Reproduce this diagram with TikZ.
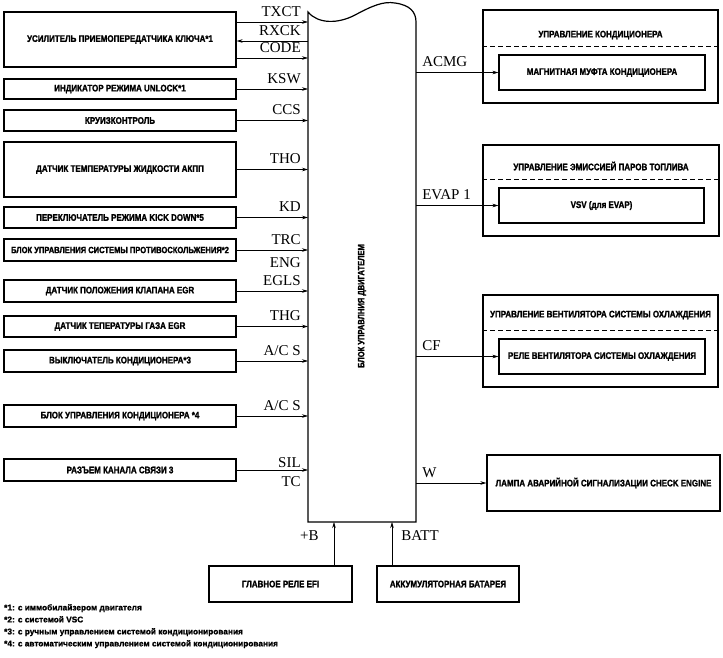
\documentclass[tikz,border=0pt]{standalone}
\usepackage{fontspec}
\setmainfont{Liberation Serif}
\newfontfamily\blockfont[UprightFont={* Bold},FakeStretch=0.84,FakeBold=1.6]{Liberation Sans}
\newfontfamily\notefont[UprightFont={* Bold},FakeBold=1.2]{Liberation Sans}
\usetikzlibrary{arrows.meta}

\begin{document}
\begin{tikzpicture}[x=1pt,y=-1pt,
    unit/.style={draw,line width=1.2pt,minimum width=232pt,inner sep=0pt,
        font={\blockfont\fontsize{9.5}{11}\selectfont}},
    ttl/.style={inner sep=0pt,font={\blockfont\fontsize{9.5}{11}\selectfont}},
    sig/.style={line width=0.6pt,-{Stealth[length=6pt,width=3.5pt]}},
    lab/.style={inner sep=0pt,font={\fontsize{15}{15}\selectfont}}]
    \useasboundingbox (0,0) rectangle (723,657);

    % engine ECU
    \draw[line width=1.2pt] (308,522) -- (308,12) .. controls (318,24) and (338,24) .. (355,15)
        .. controls (372,6) and (383,1) .. (395,3) .. controls (410,5) and (416,12) .. (416,22)
        -- (416,522) -- cycle;
    \coordinate (ecuL) at (308,0);
    \coordinate (ecuR) at (416,0);
    \coordinate (bIn) at (334,522);
    \coordinate (battIn) at (392,522);
    \node[ttl,rotate=90,font={\blockfont\fontsize{9}{11}\selectfont}] (ecutxt) at (362,306) {БЛОК УПРАВЛНИЯ ДВИГАТЕЛЕМ};

    % inputs
    \node[unit,minimum height=55pt] (immo) at (120,39.5) {УСИЛИТЕЛЬ ПРИЕМОПЕРЕДАТЧИКА КЛЮЧА*1};
    \node[unit,minimum height=20pt] (unlock) at (120,89) {ИНДИКАТОР РЕЖИМА UNLOCK*1};
    \node[unit,minimum height=21pt] (cruise) at (120,120.5) {КРУИЗКОНТРОЛЬ};
    \node[unit,minimum height=55pt] (atf) at (120,169.5) {ДАТЧИК ТЕМПЕРАТУРЫ ЖИДКОСТИ АКПП};
    \node[unit,minimum height=21pt] (kick) at (120,217.5) {ПЕРЕКЛЮЧАТЕЛЬ РЕЖИМА KICK DOWN*5};
    \node[unit,minimum height=22pt,font={\blockfont\fontsize{9}{11}\selectfont}] (trc) at (120,250) {БЛОК УПРАВЛЕНИЯ СИСТЕМЫ ПРОТИВОСКОЛЬЖЕНИЯ*2};
    \node[unit,minimum height=22pt] (egrpos) at (120,291) {ДАТЧИК ПОЛОЖЕНИЯ КЛАПАНА EGR};
    \node[unit,minimum height=21pt] (egrtemp) at (120,326.5) {ДАТЧИК ТЕПЕРАТУРЫ ГАЗА EGR};
    \node[unit,minimum height=22pt] (acsw) at (120,361) {ВЫКЛЮЧАТЕЛЬ КОНДИЦИОНЕРА*3};
    \node[unit,minimum height=22pt] (acecu) at (120,416) {БЛОК УПРАВЛЕНИЯ КОНДИЦИОНЕРА *4};
    \node[unit,minimum height=22pt] (dlc) at (120,470) {РАЗЪЕМ КАНАЛА СВЯЗИ 3};

    \coordinate (txct) at ([yshift=17.5pt]immo.east);
    \coordinate (rxck) at ([yshift=-1.5pt]immo.east);
    \coordinate (code) at ([yshift=-18.5pt]immo.east);
    \draw[sig] (txct) -- (txct -| ecuL) node[lab,anchor=base east,xshift=-7pt,yshift=6pt] {TXCT};
    \draw[sig] (rxck -| ecuL) node[lab,anchor=base east,xshift=-7pt,yshift=6pt] {RXCK} -- (rxck);
    \draw[sig] (code) -- (code -| ecuL) node[lab,anchor=base east,xshift=-7pt,yshift=6pt] {CODE};
    \draw[sig] (unlock.east) -- (unlock.east -| ecuL) node[lab,anchor=base east,xshift=-7pt,yshift=6pt] {KSW};
    \draw[sig] (cruise.east) -- (cruise.east -| ecuL) node[lab,anchor=base east,xshift=-7pt,yshift=6pt] {CCS};
    \draw[sig] (atf.east) -- (atf.east -| ecuL) node[lab,anchor=base east,xshift=-7pt,yshift=6pt] {THO};
    \draw[sig] (kick.east) -- (kick.east -| ecuL) node[lab,anchor=base east,xshift=-7pt,yshift=6pt] {KD};
    \draw[sig] (trc.east) -- (trc.east -| ecuL) node[lab,anchor=base east,xshift=-7pt,yshift=6pt] {TRC}
        node[lab,anchor=base east,xshift=-7pt,yshift=-17pt] {ENG};
    \draw[sig] (egrpos.east) -- (egrpos.east -| ecuL) node[lab,anchor=base east,xshift=-7pt,yshift=6pt] {EGLS};
    \draw[sig] (egrtemp.east) -- (egrtemp.east -| ecuL) node[lab,anchor=base east,xshift=-7pt,yshift=6pt] {THG};
    \draw[sig] (acsw.east) -- (acsw.east -| ecuL) node[lab,anchor=base east,xshift=-7pt,yshift=6pt] {A/C S};
    \draw[sig] (acecu.east) -- (acecu.east -| ecuL) node[lab,anchor=base east,xshift=-7pt,yshift=6pt] {A/C S};
    \draw[sig] (dlc.east) -- (dlc.east -| ecuL) node[lab,anchor=base east,xshift=-7pt,yshift=3pt] {SIL}
        node[lab,anchor=base east,xshift=-7pt,yshift=-16pt] {TC};

    % outputs
    \node[unit,minimum width=235pt,minimum height=93pt] (acctl) at (600.5,56.5) {};
    \node[ttl] (acttl) at (600.5,35) {УПРАВЛЕНИЕ КОНДИЦИОНЕРА};
    \draw[dashed,dash pattern=on 5pt off 3pt,line width=0.8pt] ([yshift=-37pt]acctl.north west) -- ([yshift=-37pt]acctl.north east);
    \node[unit,minimum width=206pt,minimum height=35pt] (acmg) at (602,72.5) {МАГНИТНАЯ МУФТА КОНДИЦИОНЕРА};

    \node[unit,minimum width=236pt,minimum height=91pt] (evctl) at (601,190.5) {};
    \node[ttl] (evttl) at (601,166) {УПРАВЛЕНИЕ ЭМИССИЕЙ ПАРОВ ТОПЛИВА};
    \draw[dashed,dash pattern=on 5pt off 3pt,line width=0.8pt] ([yshift=-35pt]evctl.north west) -- ([yshift=-35pt]evctl.north east);
    \node[unit,minimum width=205pt,minimum height=35pt] (vsv) at (601.5,205.5) {VSV (для EVAP)};

    \node[unit,minimum width=235pt,minimum height=92pt] (fanctl) at (600.5,341) {};
    \node[ttl] (fanttl) at (600.5,315) {УПРАВЛЕНИЕ ВЕНТИЛЯТОРА СИСТЕМЫ ОХЛАЖДЕНИЯ};
    \draw[dashed,dash pattern=on 5pt off 3pt,line width=0.8pt] ([yshift=-36pt]fanctl.north west) -- ([yshift=-36pt]fanctl.north east);
    \node[unit,minimum width=206pt,minimum height=35pt] (fan) at (602,356.5) {РЕЛЕ ВЕНТИЛЯТОРА СИСТЕМЫ ОХЛАЖДЕНИЯ};

    \node[unit,minimum width=233pt,minimum height=56pt] (mil) at (603.5,483) {ЛАМПА АВАРИЙНОЙ СИГНАЛИЗАЦИИ CHECK ENGINE};

    \draw[sig] (acmg.west -| ecuR) node[lab,anchor=base west,xshift=6pt,yshift=6pt] {ACMG} -- (acmg.west);
    \draw[sig] (vsv.west -| ecuR) node[lab,anchor=base west,xshift=6pt,yshift=6pt] {EVAP 1} -- (vsv.west);
    \draw[sig] (fan.west -| ecuR) node[lab,anchor=base west,xshift=6pt,yshift=6pt] {CF} -- (fan.west);
    \draw[sig] (mil.west -| ecuR) node[lab,anchor=base west,xshift=6pt,yshift=6pt] {W} -- (mil.west);

    % power supply
    \node[unit,minimum width=143pt,minimum height=36pt] (efi) at (280.5,584) {ГЛАВНОЕ РЕЛЕ EFI};
    \node[unit,minimum width=142pt,minimum height=36pt] (batt) at (448,584) {АККУМУЛЯТОРНАЯ БАТАРЕЯ};
    \draw[sig] (bIn |- efi.north) -- (bIn) node[lab,anchor=base east,xshift=-15pt,yshift=-18pt] {+B};
    \draw[sig] (battIn |- batt.north) -- (battIn) node[lab,anchor=base west,xshift=9pt,yshift=-18pt] {BATT};

    % footnotes
    \node[anchor=north west,align=left,inner sep=0pt,font={\notefont\fontsize{8.3}{12}\selectfont}] (notes) at (4,604)
        {*1: с иммобилайзером двигателя\\*2: с системой VSC\\*3: с ручным управлением системой кондиционирования\\*4: с автоматическим управлением системой кондиционирования};
\end{tikzpicture}
\end{document}
